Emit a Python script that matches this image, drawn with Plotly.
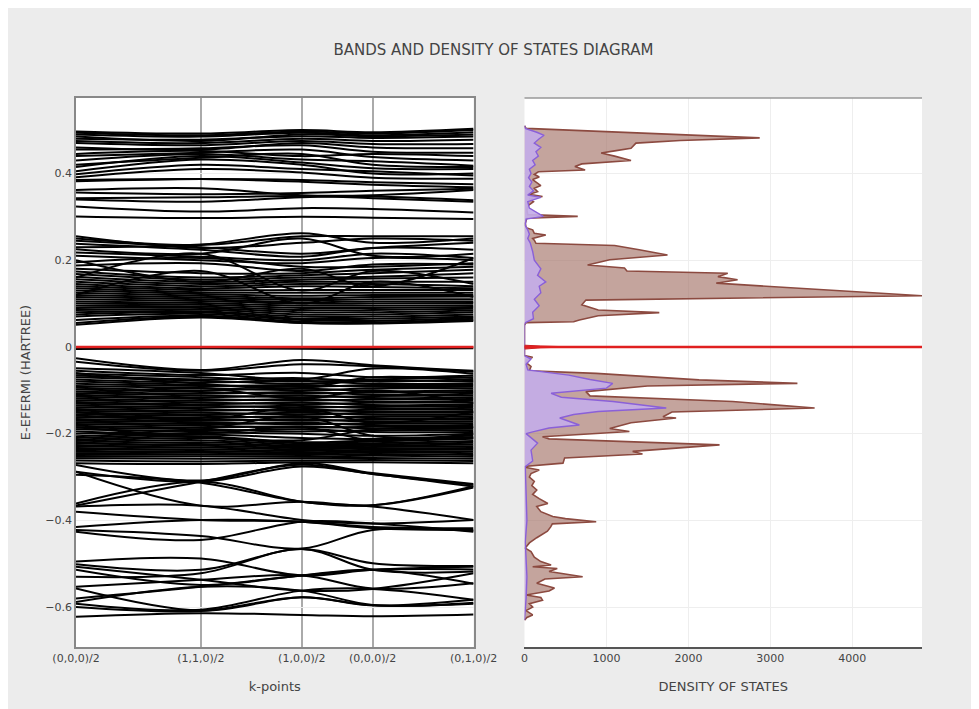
import plotly.graph_objects as go
from plotly.subplots import make_subplots

# ---------------- data ----------------
k_labels = ["(0,0,0)/2", "(1,1,0)/2", "(1,0,0)/2", "(0,0,0)/2", "(0,1,0)/2"]
k_dist = [0.0, 1.25, 2.26, 2.97, 3.98]

# band energies (milli-Hartree, relative to E-Fermi) at the five k-points
bands_lower = [
    [-622, -614, -618, -621, -617], [-600, -609, -577, -596, -592],
    [-592, -606, -562, -558, -583], [-580, -553, -527, -514, -546],
    [-495, -488, -527, -514, -507], [-501, -514, -466, -499, -505],
    [-507, -537, -562, -558, -522], [-514, -549, -527, -514, -513],
    [-530, -522, -466, -514, -518], [-553, -537, -527, -557, -545],
    [-557, -608, -577, -596, -583], [-588, -553, -562, -595, -590],
]
bands_middle = [
    [-272, -308, -268, -291, -316], [-288, -311, -276, -293, -322],
    [-295, -313, -357, -365, -321], [-361, -311, -357, -368, -399],
    [-366, -311, -272, -293, -318], [-368, -366, -399, -407, -399],
    [-380, -399, -403, -415, -418], [-415, -399, -403, -418, -422],
    [-422, -436, -465, -422, -424], [-426, -445, -403, -407, -426],
    [-288, -366, -357, -365, -324],
]
bands_valence = [
    [-5, -3, -4, -5, -3],
    [-26, -53, -30, -42, -55], [-34, -55, -40, -45, -57], [-49, -60, -75, -50, -62],
    [-55, -65, -60, -70, -66], [-62, -70, -80, -75, -70], [-66, -75, -72, -80, -74],
    [-70, -78, -85, -78, -80], [-75, -82, -78, -85, -84], [-80, -88, -92, -88, -88],
    [-85, -90, -88, -92, -92], [-90, -95, -100, -96, -96], [-94, -100, -96, -102, -100],
    [-98, -104, -108, -105, -104], [-103, -108, -104, -110, -108], [-107, -112, -116, -113, -112],
    [-111, -116, -112, -118, -116], [-115, -120, -124, -121, -120], [-119, -124, -120, -126, -124],
    [-123, -128, -132, -129, -128], [-127, -132, -128, -134, -132], [-131, -135, -140, -137, -136],
    [-135, -139, -136, -141, -140], [-139, -143, -148, -145, -144], [-143, -147, -144, -149, -148],
    [-147, -151, -156, -152, -152], [-151, -155, -152, -156, -156], [-155, -159, -163, -160, -160],
    [-159, -163, -160, -164, -164], [-162, -166, -170, -168, -168], [-166, -170, -167, -172, -172],
    [-170, -174, -178, -176, -176], [-174, -178, -175, -180, -180], [-178, -182, -186, -184, -184],
    [-182, -186, -183, -188, -188], [-186, -190, -195, -192, -192], [-190, -194, -190, -196, -196],
    [-206, -198, -200, -205, -200], [-210, -202, -210, -212, -204], [-214, -206, -220, -215, -208],
    [-217, -210, -222, -218, -212], [-221, -215, -225, -222, -217], [-224, -220, -228, -225, -221],
    [-228, -224, -230, -228, -225], [-231, -228, -233, -231, -229], [-235, -232, -236, -234, -233],
    [-238, -236, -240, -237, -237], [-242, -240, -243, -240, -241], [-245, -244, -246, -243, -245],
    [-249, -248, -249, -247, -249], [-253, -252, -253, -251, -253], [-257, -258, -257, -256, -258],
    [-262, -264, -262, -261, -263], [-268, -270, -266, -266, -268],
    [-195, -200, -185, -215, -200], [-200, -190, -160, -205, -210], [-185, -208, -215, -190, -185],
    [-60, -85, -95, -70, -78], [-110, -95, -120, -100, -130], [-150, -168, -140, -175, -150],
]
bands_cond_low = [
    [230, 236, 262, 240, 250], [250, 235, 255, 255, 255], [255, 228, 240, 250, 245],
    [245, 230, 215, 228, 240], [238, 224, 208, 228, 224], [225, 215, 250, 210, 215],
    [218, 208, 200, 215, 205], [210, 200, 193, 205, 200], [195, 205, 185, 185, 193],
    [188, 193, 175, 190, 190], [180, 170, 170, 178, 185], [174, 160, 165, 170, 178],
    [168, 155, 160, 162, 170], [162, 150, 155, 158, 160], [156, 145, 150, 150, 150],
    [150, 140, 145, 145, 140], [145, 135, 140, 138, 135], [140, 131, 131, 131, 131],
    [135, 126, 125, 125, 125], [130, 122, 118, 120, 120], [125, 118, 112, 115, 116],
    [120, 114, 108, 110, 110], [115, 110, 103, 105, 105], [110, 106, 100, 100, 101],
    [105, 101, 95, 95, 96], [100, 97, 90, 90, 92], [95, 93, 85, 85, 88],
    [90, 90, 80, 80, 84], [85, 86, 75, 75, 80], [80, 82, 70, 70, 75],
    [75, 80, 65, 65, 70], [70, 76, 62, 60, 68], [62, 72, 58, 56, 65],
    [55, 70, 56, 55, 62], [51, 68, 55, 54, 60],
    [160, 215, 130, 175, 145], [200, 150, 180, 140, 205], [120, 175, 100, 150, 115],
]
bands_cond_high = [
    [301, 297, 300, 298, 295], [324, 312, 320, 318, 310], [343, 345, 348, 343, 335],
    [340, 335, 345, 347, 338], [362, 366, 350, 350, 362], [356, 352, 355, 360, 365],
    [385, 387, 381, 374, 368], [382, 387, 385, 380, 375], [391, 410, 402, 390, 388],
    [398, 420, 410, 405, 395], [405, 432, 420, 400, 400], [415, 440, 425, 412, 410],
    [420, 436, 445, 420, 415], [430, 445, 432, 428, 418], [440, 448, 455, 438, 430],
    [445, 452, 440, 445, 440], [455, 458, 465, 450, 448], [460, 455, 470, 460, 458],
    [470, 465, 475, 468, 468], [475, 470, 480, 475, 478], [480, 478, 486, 482, 485],
    [485, 475, 490, 486, 490], [490, 485, 494, 488, 495], [494, 488, 497, 492, 500],
    [497, 492, 500, 495, 503],
]

# total density of states (energy in Hartree, DOS in states)
dos_total_energy = [
    0.510, 0.504, 0.482, 0.476, 0.470, 0.458, 0.452, 0.447, 0.440, 0.430, 0.422, 0.416, 0.408, 0.404,
    0.398, 0.392, 0.386, 0.378, 0.372, 0.366, 0.358, 0.352, 0.347, 0.342, 0.335, 0.325, 0.315, 0.305,
    0.301, 0.297, 0.285, 0.275, 0.270, 0.262, 0.258, 0.250, 0.246, 0.239, 0.234, 0.224, 0.212, 0.201,
    0.189, 0.182, 0.175, 0.170, 0.162, 0.155, 0.147, 0.118, 0.108, 0.097, 0.085, 0.079, 0.072, 0.062,
    0.058, 0.056, 0.050,
    -0.020, -0.024, -0.030, -0.036, -0.045, -0.055, -0.061, -0.076, -0.084, -0.090, -0.103, -0.113,
    -0.126, -0.141, -0.150, -0.161, -0.164, -0.175, -0.188, -0.195, -0.207, -0.212, -0.226, -0.241,
    -0.247, -0.256, -0.268, -0.275,
    -0.278, -0.284, -0.292, -0.300, -0.310, -0.320, -0.330, -0.340, -0.350, -0.361, -0.368, -0.380,
    -0.391, -0.396, -0.403, -0.408, -0.415, -0.425, -0.440, -0.452, -0.464, -0.472, -0.485, -0.495,
    -0.503, -0.507, -0.511, -0.518, -0.530, -0.535, -0.545, -0.556, -0.563, -0.572, -0.578, -0.584,
    -0.592, -0.600, -0.608, -0.618, -0.624, -0.630,
]
dos_total = [
    0, 20, 2870, 1900, 1360, 1300, 1100, 935, 1100, 1300, 700, 615, 740, 170,
    120, 180, 100, 150, 200, 120, 160, 60, 220, 60, 110, 40, 30, 40,
    650, 30, 10, 20, 100, 120, 260, 100, 120, 140, 1100, 1400, 1745, 1040,
    770, 1220, 1250, 2480, 2360, 2600, 2340, 4850, 750, 700, 900, 1645, 900, 670,
    600, 20, 0,
    0, 100, 30, 20, 80, 60, 875, 2130, 3330, 1500, 750, 800,
    2540, 3540, 1800, 1690, 1850, 1300, 1040, 1280, 220, 300, 2380, 1320,
    1440, 490, 470, 30,
    20, 180, 80, 60, 120, 90, 150, 100, 180, 285, 150, 200,
    345, 500, 875, 340, 320, 280, 150, 60, 10, 80, 120, 200,
    325, 100, 400, 300, 710, 250, 150, 366, 300, 20, 200, 220,
    60, 100, 20, 100, 30, 0,
]

# partial density of states
dos_part_energy = [
    0.510, 0.504, 0.495, 0.488, 0.480, 0.470, 0.460, 0.450, 0.440, 0.430, 0.420, 0.410, 0.400,
    0.390, 0.380, 0.370, 0.360, 0.350, 0.345, 0.335, 0.320, 0.301, 0.295, 0.280, 0.270, 0.260,
    0.250, 0.240, 0.220, 0.200, 0.180, 0.165, 0.150, 0.140, 0.125, 0.110, 0.095, 0.080, 0.065,
    0.056, 0.050,
    -0.020, -0.028, -0.040, -0.053, -0.065, -0.075, -0.084, -0.095, -0.107, -0.116, -0.126,
    -0.141, -0.149, -0.156, -0.164, -0.180, -0.187, -0.196, -0.200, -0.222, -0.238, -0.250,
    -0.263, -0.276, -0.300, -0.350, -0.400, -0.450, -0.500, -0.530, -0.580, -0.630,
]
dos_part = [
    0, 10, 150, 240, 180, 120, 200, 140, 170, 100, 130, 60, 80,
    50, 90, 60, 110, 40, 200, 40, 60, 230, 20, 10, 40, 60,
    40, 70, 100, 120, 200, 160, 260, 180, 200, 120, 180, 100, 110,
    10, 0,
    0, 80, 20, 40, 540, 800, 1077, 1000, 325, 450, 1080,
    1730, 900, 600, 430, 670, 300, 100, 20, 160, 80, 90,
    100, 10, 15, 20, 30, 10, 20, 30, 20, 0,
]

# states at the Fermi level
fermi_energy = [0.004, 0.002, 0.0, -0.002, -0.005]
fermi_dos = [0, 200, 600, 200, 0]

# ---------------- figure ----------------
FONT = "Verdana, DejaVu Sans, sans-serif"
fig = make_subplots(rows=1, cols=2, shared_yaxes=True, horizontal_spacing=0.0602,
                    column_widths=[0.5, 0.5])

bx, by = [], []
for group in (bands_lower, bands_middle, bands_valence, bands_cond_low, bands_cond_high):
    for band in group:
        bx.extend(k_dist + [None])
        by.extend([e / 1000.0 for e in band] + [None])
fig.add_trace(go.Scatter(x=bx, y=by, mode="lines",
                         line=dict(color="black", width=2, shape="spline", smoothing=1.0),
                         showlegend=False, hoverinfo="skip"), row=1, col=1)

fig.add_trace(go.Scatter(x=dos_total, y=dos_total_energy, mode="lines", fill="tozerox",
                         fillcolor="rgba(165,115,105,0.65)", line=dict(color="#8c4a40", width=1.6),
                         showlegend=False), row=1, col=2)
fig.add_trace(go.Scatter(x=dos_part, y=dos_part_energy, mode="lines", fill="tozerox",
                         fillcolor="rgba(195,172,232,0.92)", line=dict(color="#8a60d8", width=1.4),
                         showlegend=False), row=1, col=2)
fig.add_trace(go.Scatter(x=fermi_dos, y=fermi_energy, mode="lines", fill="tozerox",
                         fillcolor="rgba(200,30,30,0.9)", line=dict(color="#c82020", width=1),
                         showlegend=False), row=1, col=2)

# Fermi level lines
fig.add_shape(type="line", xref="x domain", yref="y", x0=0, x1=1, y0=0, y1=0,
              line=dict(color="#e02020", width=2.5))
fig.add_shape(type="line", xref="x2 domain", yref="y2", x0=0, x1=1, y0=0, y1=0,
              line=dict(color="#e02020", width=2.5))
# top frame line of DOS panel
fig.add_shape(type="line", xref="x2 domain", yref="y2 domain", x0=0, x1=1, y0=1, y1=1,
              line=dict(color="#999999", width=1.5))

fig.update_xaxes(row=1, col=1, tickmode="array", tickvals=k_dist, ticktext=k_labels,
                 range=[k_dist[0], k_dist[-1]], showgrid=True, gridcolor="#aaaaaa", gridwidth=1.5,
                 showline=True, linecolor="#888888", linewidth=1.5, mirror=True, zeroline=False,
                 title=dict(text="k-points", standoff=18), ticks="")
fig.update_xaxes(row=1, col=2, range=[0, 4850], dtick=1000, showgrid=True, gridcolor="#eeeeee",
                 showline=True, linecolor="#555555", linewidth=1.5, zeroline=False,
                 title=dict(text="DENSITY OF STATES", standoff=18), ticks="")
fig.update_yaxes(row=1, col=1, range=[-0.692, 0.574], dtick=0.2, showgrid=True, gridcolor="#eeeeee",
                 showline=True, linecolor="#888888", linewidth=1.5, mirror=True, zeroline=False,
                 title=dict(text="E-EFERMI (HARTREE)", standoff=12), ticks="")
fig.update_yaxes(row=1, col=2, showgrid=True, gridcolor="#eeeeee", showline=False, zeroline=False,
                 showticklabels=False, ticks="")

fig.update_layout(
    width=971, height=701,
    margin=dict(l=68, r=57, t=90, b=62),
    paper_bgcolor="#ececec", plot_bgcolor="white",
    font=dict(family=FONT, size=11, color="#444444"),
    title=dict(text="BANDS AND DENSITY OF STATES DIAGRAM", x=0.5, xanchor="center",
               y=0.94, yanchor="middle", font=dict(size=15, color="#444444", family=FONT)),
    showlegend=False,
)

fig.write_html("out.html")
